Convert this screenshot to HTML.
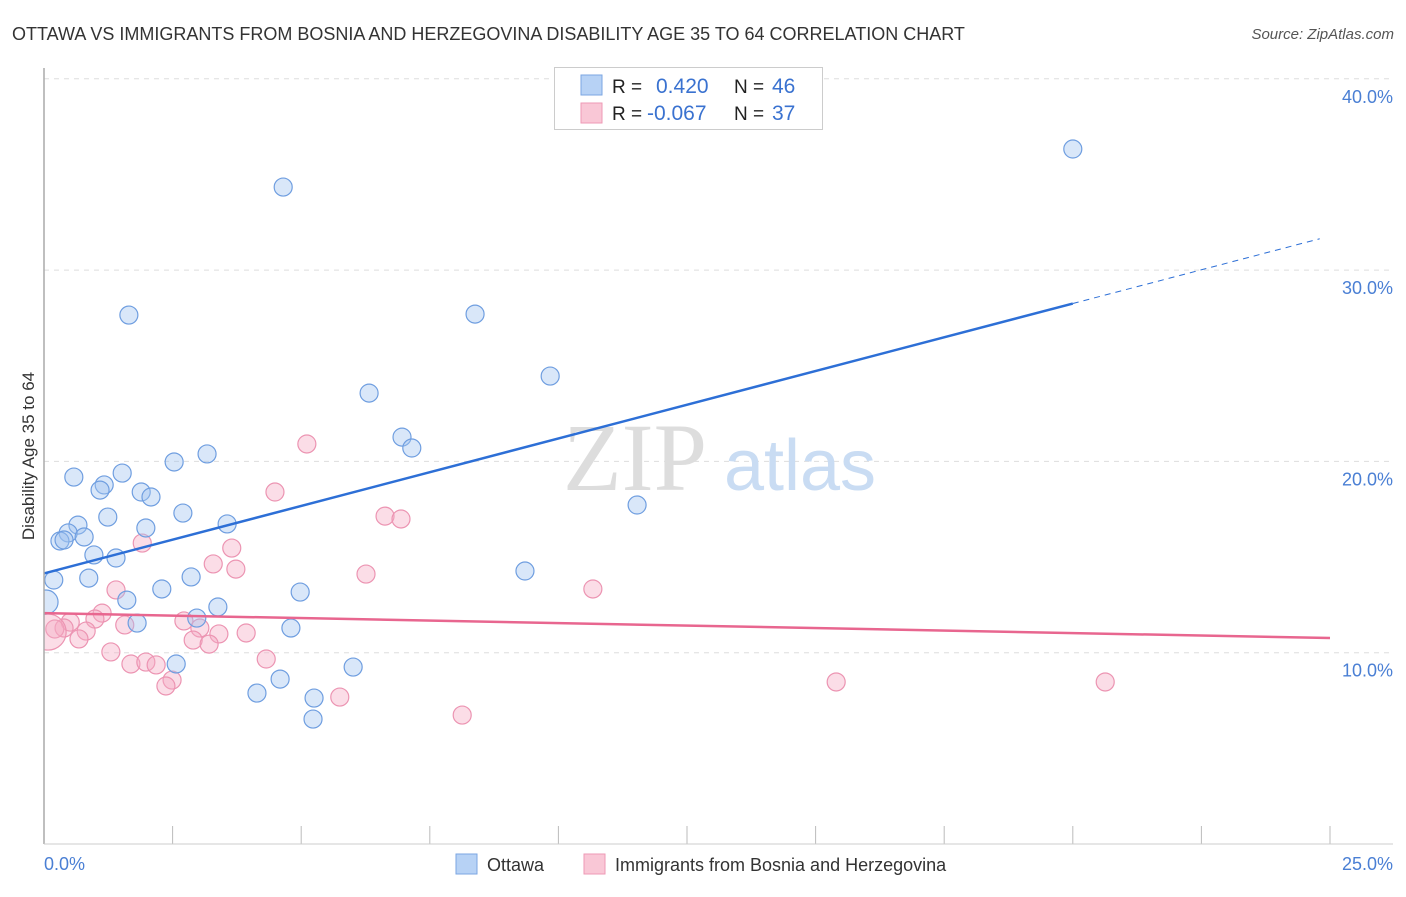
<!DOCTYPE html>
<html><head><meta charset="utf-8"><style>
body{margin:0;background:#fff;font-family:"Liberation Sans",sans-serif}
</style></head><body>
<svg width="1406" height="892" xmlns="http://www.w3.org/2000/svg">
<text x="12" y="40" font-size="18" fill="#333">OTTAWA VS IMMIGRANTS FROM BOSNIA AND HERZEGOVINA DISABILITY AGE 35 TO 64 CORRELATION CHART</text>
<text x="1394" y="39" font-size="15" fill="#555" font-style="italic" text-anchor="end">Source: ZipAtlas.com</text>
<g id="grid"></g>
<g>
<text x="635" y="490" font-size="96" font-family="Liberation Serif,serif" fill="#ddd" text-anchor="middle">ZIP</text>
<text x="800" y="490" font-size="72" fill="#c9dcf3" text-anchor="middle">atlas</text></g>
<defs><clipPath id="pc"><rect x="44" y="60" width="1350" height="784"/></clipPath></defs>
<g id="pts" clip-path="url(#pc)"></g>
<g id="trend"></g>
<line x1="44" y1="68" x2="44" y2="844" stroke="#aaa" stroke-width="1.5"/>
<line x1="44" y1="844" x2="1393" y2="844" stroke="#ccc"/>
<text transform="translate(34,456) rotate(-90)" font-size="17" fill="#333" text-anchor="middle">Disability Age 35 to 64</text>
<text x="44" y="870" font-size="18" fill="#4a7fd4">0.0%</text>
<text x="1393" y="870" font-size="18" fill="#4a7fd4" text-anchor="end">25.0%</text>
<g>
<rect x="554.5" y="67.5" width="268" height="62" fill="#fff" stroke="#ccc"/>
<rect x="581" y="75" width="21" height="20" fill="#b7d2f5" stroke="#7ba6e2"/>
<rect x="581" y="103" width="21" height="20" fill="#f9c7d6" stroke="#ee9ab5"/>
<text x="612" y="93" font-size="19" fill="#222">R =</text><text x="656" y="93" font-size="21" fill="#3a72d0">0.420</text>
<text x="734" y="93" font-size="19" fill="#222">N =</text><text x="772" y="93" font-size="21" fill="#3a72d0">46</text>
<text x="612" y="120" font-size="19" fill="#222">R =</text><text x="647" y="120" font-size="21" fill="#3a72d0">-0.067</text>
<text x="734" y="120" font-size="19" fill="#222">N =</text><text x="772" y="120" font-size="21" fill="#3a72d0">37</text>
</g>
<g>
<rect x="456" y="854" width="21" height="20" fill="#b7d2f5" stroke="#7ba6e2"/>
<text x="487" y="871" font-size="18" fill="#333">Ottawa</text>
<rect x="584" y="854" width="21" height="20" fill="#f9c7d6" stroke="#ee9ab5"/>
<text x="615" y="871" font-size="18" fill="#333">Immigrants from Bosnia and Herzegovina</text>
</g>
</svg>
<script>
const blueX=[20.00,4.65,1.65,8.38,9.84,6.32,6.96,7.15,3.17,2.53,0.58,1.52,1.17,1.09,1.89,2.08,2.70,1.24,3.56,0.66,1.98,0.47,0.78,0.31,0.39,0.97,1.40,11.53,9.35,0.19,0.87,2.86,2.29,4.98,1.61,0.04,3.38,2.97,1.81,4.80,2.57,6.01,4.59,4.14,5.25,5.23];
const blueY=[36.33,34.34,27.65,27.70,24.46,23.57,21.27,20.70,20.39,19.97,19.18,19.39,18.77,18.50,18.40,18.14,17.30,17.09,16.73,16.67,16.52,16.26,16.05,15.84,15.89,15.11,14.95,17.72,14.27,13.80,13.90,13.96,13.33,13.17,12.75,12.65,12.39,11.81,11.55,11.29,9.41,9.25,8.62,7.89,7.63,6.53];
const pinkX=[5.11,4.49,6.63,6.94,1.91,3.65,3.29,3.73,6.26,10.67,1.40,1.13,0.99,2.72,1.57,0.51,0.39,0.21,0.08,0.82,3.03,3.40,3.93,0.68,2.90,3.21,1.30,4.32,1.69,1.98,2.18,2.49,2.37,5.75,8.13,15.40,20.63];
const pinkY=[20.91,18.40,17.14,16.99,15.73,15.47,14.64,14.37,14.11,13.33,13.28,12.07,11.76,11.66,11.45,11.60,11.29,11.24,11.08,11.13,11.29,10.98,11.03,10.72,10.66,10.45,10.04,9.67,9.41,9.51,9.36,8.57,8.26,7.68,6.74,8.47,8.47];
const yTicks=[10,20,30,40];
const xTicks=[0,2.5,5,7.5,10,12.5,15,17.5,20,22.5,25];
const NS='http://www.w3.org/2000/svg';
const sx=v=>44+v/25*1286, sy=v=>844-v*19.13;
function mk(tag,attrs,parent){const e=document.createElementNS(NS,tag);for(const k in attrs)e.setAttribute(k,attrs[k]);parent.appendChild(e);return e;}
const grid=document.getElementById('grid');
yTicks.forEach(t=>{
 const l=mk('line',{x1:44,x2:1393,y1:sy(t),y2:sy(t),stroke:'#ddd','stroke-dasharray':'5,5'},grid);
 
 
 const tx=mk('text',{x:1393,y:sy(t)+24,'font-size':18,fill:'#4a7fd4','text-anchor':'end'},grid);
 tx.textContent=t.toFixed(1)+'%';
 
 
});
xTicks.forEach(t=>{
 const l=mk('line',{x1:sx(t),x2:sx(t),y1:826,y2:844,stroke:'#bbb'},grid);
 
 
});
const pts=document.getElementById('pts');
pinkX.forEach((x,i)=>{
 const r=(x<0.1)?18:9;
 const c=mk('circle',{cx:sx(x),cy:sy(pinkY[i]),r:r,fill:'rgba(244,170,195,0.4)',stroke:'#ec94b2','stroke-width':1.2},pts);
 
 
});
blueX.forEach((x,i)=>{
 const r=(x<0.1)?12:9;
 const c=mk('circle',{cx:sx(x),cy:sy(blueY[i]),r:r,fill:'rgba(160,196,240,0.4)',stroke:'#6f9ee0','stroke-width':1.2},pts);
 
 
});
function fit(X,Y){const n=X.length;const mx=X.reduce((a,b)=>a+b)/n,my=Y.reduce((a,b)=>a+b)/n;let sxy=0,sxx=0;X.forEach((x,i)=>{sxy+=(x-mx)*(Y[i]-my);sxx+=(x-mx)**2});const b=sxy/sxx;return [my-b*mx,b];}
const tr=document.getElementById('trend');
const [ba,bb]=fit(blueX,blueY), bmax=Math.max(...blueX);
let l=mk('line',{x1:sx(0),y1:sy(ba),x2:sx(bmax),y2:sy(ba+bb*bmax),stroke:'#2d6fd6','stroke-width':2.5},tr);


l=mk('line',{x1:sx(bmax),y1:sy(ba+bb*bmax),x2:sx(24.8),y2:sy(ba+bb*24.8),stroke:'#2d6fd6','stroke-width':1,'stroke-dasharray':'6,5'},tr);


const [pa,pb]=fit(pinkX,pinkY);
l=mk('line',{x1:sx(0),y1:sy(pa),x2:sx(25),y2:sy(pa+pb*25),stroke:'#e8668f','stroke-width':2.5},tr);


</script>
</body></html>
